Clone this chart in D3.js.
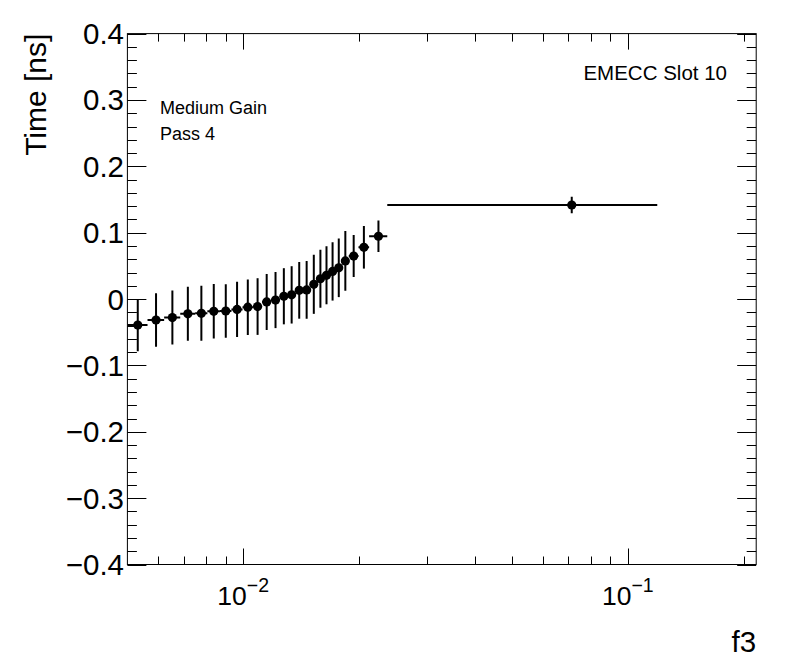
<!DOCTYPE html>
<html>
<head>
<meta charset="utf-8">
<script src="https://cdn.jsdelivr.net/npm/d3@7"></script>
<style>
  html, body { margin: 0; padding: 0; background: #fff; }
  svg { display: block; }
  text { font-family: "Liberation Sans", Arial, Helvetica, sans-serif; fill: #000; }
</style>
</head>
<body>
<svg id="chart" width="796" height="672"></svg>
<script>
// ---- data ----
const binEdges = [0.00500, 0.00564, 0.00623, 0.00686, 0.00750, 0.00807, 0.00870, 0.00932,
  0.00996, 0.01060, 0.01120, 0.01182, 0.01245, 0.01306, 0.01367, 0.01430, 0.01494,
  0.01558, 0.01617, 0.01676, 0.01739, 0.01805, 0.01881, 0.01994, 0.02125, 0.02369, 0.11925];
const timeValues = [-0.0392, -0.0316, -0.0279, -0.0222, -0.0215, -0.0185, -0.0180, -0.0156,
  -0.0123, -0.0113, -0.0044, -0.0015, 0.0042, 0.0063, 0.0131, 0.0138, 0.0222, 0.0306,
  0.0358, 0.0416, 0.0470, 0.0575, 0.0648, 0.0779, 0.0946, 0.1417];
const timeErrors = [0.0393, 0.0402, 0.0407, 0.0407, 0.0414, 0.0411, 0.0403, 0.0417,
  0.0418, 0.0427, 0.0422, 0.0423, 0.0423, 0.0432, 0.0427, 0.0435, 0.0445, 0.0437,
  0.0437, 0.0439, 0.0441, 0.0450, 0.0316, 0.0320, 0.0237, 0.0125];
const xDomain = [0.005, 0.2156];
const yDomain = [-0.4, 0.4];
const xMajorTicks = [0.01, 0.1];
const xMajorExponents = ["−2", "−1"];
const xMinorTicks = [0.006, 0.007, 0.008, 0.009, 0.02, 0.03, 0.04, 0.05, 0.06, 0.07, 0.08, 0.09, 0.2];
const yMajorTicks = [-0.4, -0.3, -0.2, -0.1, 0, 0.1, 0.2, 0.3, 0.4];
const yMajorLabels = ["−0.4", "−0.3", "−0.2", "−0.1", "0", "0.1", "0.2", "0.3", "0.4"];
const yMinorTicks = d3.range(-40, 41, 2).filter(v => v % 10 !== 0).map(v => v / 100);
const xTitle = "f3";
const yTitle = "Time [ns]";
const labelLines = ["Medium Gain", "Pass 4"];
const cornerLabel = "EMECC Slot 10";

// ---- layout ----
const W = 796, H = 672;
const L = 127.4, R = 756.2, T = 33.6, B = 564.5;
const svg = d3.select("#chart");

const x = d3.scaleLog().domain(xDomain).range([L, R]);
const y = d3.scaleLinear().domain(yDomain).range([B, T]);

const bins = timeValues.map((v, i) => ({
  lo: binEdges[i], hi: binEdges[i + 1],
  c: (binEdges[i] + binEdges[i + 1]) / 2,
  v: v, e: timeErrors[i]
}));

// clip
svg.append("defs").append("clipPath").attr("id", "frameClip")
  .append("rect").attr("x", L).attr("y", T).attr("width", R - L).attr("height", B - T);

// ---- ticks ----
const tickG = svg.append("g").attr("stroke", "#000").attr("stroke-width", 1);
const xMajLen = 16, xMinLen = 8, yMajLen = 19, yMinLen = 9.5;
function xTick(v, len) {
  const px = Math.round(x(v)) + 0.5;
  tickG.append("line").attr("x1", px).attr("x2", px).attr("y1", B).attr("y2", B - len);
  tickG.append("line").attr("x1", px).attr("x2", px).attr("y1", T).attr("y2", T + len);
}
function yTick(v, len) {
  const py = Math.round(y(v)) + 0.5;
  tickG.append("line").attr("x1", L).attr("x2", L + len).attr("y1", py).attr("y2", py);
  tickG.append("line").attr("x1", R).attr("x2", R - len).attr("y1", py).attr("y2", py);
}
xMajorTicks.forEach(v => xTick(v, xMajLen));
xMinorTicks.forEach(v => xTick(v, xMinLen));
yMajorTicks.forEach(v => yTick(v, yMajLen));
yMinorTicks.forEach(v => yTick(v, yMinLen));

// frame
svg.append("rect").attr("x", L).attr("y", T).attr("width", R - L).attr("height", B - T)
  .attr("fill", "none").attr("stroke", "#000").attr("stroke-width", 1);

// ---- tick labels ----
yMajorTicks.forEach((v, i) => {
  svg.append("text").attr("x", 124).attr("y", y(v) + 10.5)
    .attr("text-anchor", "end").attr("font-size", 29.5).text(yMajorLabels[i]);
});
xMajorTicks.forEach((v, i) => {
  const t = svg.append("text").attr("x", x(v)).attr("y", 605)
    .attr("text-anchor", "middle");
  t.append("tspan").attr("font-size", 26.5).text("10");
  t.append("tspan").attr("font-size", 19.5).attr("dy", -13).text(xMajorExponents[i]);
});

// ---- titles ----
svg.append("text").attr("transform", `translate(46,${T}) rotate(-90)`)
  .attr("text-anchor", "end").attr("font-size", 30).text(yTitle);
svg.append("text").attr("x", R).attr("y", 652).attr("text-anchor", "end")
  .attr("font-size", 29.5).text(xTitle);

// labels
labelLines.forEach((s, i) => {
  svg.append("text").attr("x", 160).attr("y", 114 + i * 26).attr("font-size", 18).text(s);
});
svg.append("text").attr("x", 727).attr("y", 80).attr("text-anchor", "end")
  .attr("font-size", 20.5).text(cornerLabel);

// ---- data ----
const dg = svg.append("g").attr("clip-path", "url(#frameClip)");
dg.selectAll("line.xerr").data(bins).join("line").attr("class", "xerr")
  .attr("x1", d => x(d.lo)).attr("x2", d => x(d.hi))
  .attr("y1", d => y(d.v)).attr("y2", d => y(d.v))
  .attr("stroke", "#000").attr("stroke-width", 2);
dg.selectAll("line.yerr").data(bins).join("line").attr("class", "yerr")
  .attr("x1", d => x(d.c)).attr("x2", d => x(d.c))
  .attr("y1", d => y(d.v - d.e)).attr("y2", d => y(d.v + d.e))
  .attr("stroke", "#000").attr("stroke-width", 2);
dg.selectAll("circle").data(bins).join("circle")
  .attr("cx", d => x(d.c)).attr("cy", d => y(d.v)).attr("r", 4.6)
  .attr("fill", "#000");
</script>
</body>
</html>
